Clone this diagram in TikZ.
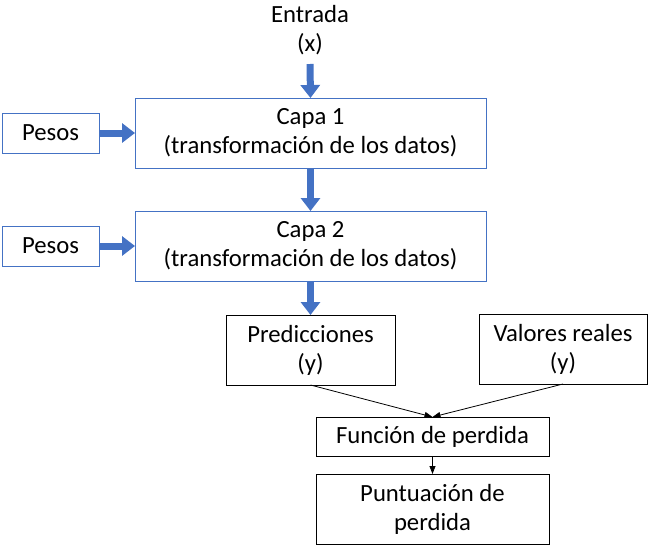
\documentclass[tikz,border=0pt]{standalone}
\usepackage{fontspec}
\setmainfont{Carlito}
\usetikzlibrary{arrows.meta}
\definecolor{obl}{HTML}{4472C4}
\tikzset{
  base/.style={rectangle, inner sep=0pt, outer sep=0pt, align=center, font=\fontsize{24.7}{29}\selectfont, text=black},
  bluebox/.style={base, draw=obl, line width=1pt},
  blackbox/.style={base, draw=black, line width=1pt},
  bigarrow/.style={draw=obl, line width=7pt, -{Triangle[width=19pt,length=13pt]}},
  thinarrow/.style={draw=black, line width=0.8pt, -{Triangle[width=6pt,length=8pt]}},
}
\begin{document}
\begin{tikzpicture}[x=1pt,y=-1pt]
\useasboundingbox (0,0) rectangle (651,549);
\node[base] (entrada) at (310,30) {Entrada\\(x)};
\node[bluebox, minimum width=351pt, minimum height=70pt] (capa1) at (310.5,133) {Capa 1\\(transformación de los datos)};
\node[bluebox, minimum width=351pt, minimum height=70pt] (capa2) at (310.5,246) {Capa 2\\(transformación de los datos)};
\node[bluebox, minimum width=97pt, minimum height=40pt] (p1) at (50.5,133) {Pesos};
\node[bluebox, minimum width=97pt, minimum height=40pt] (p2) at (50.5,246) {Pesos};
\node[blackbox, minimum width=169pt, minimum height=70pt] (pred) at (310.5,350) {Predicciones\\(y)};
\node[blackbox, minimum width=168pt, minimum height=70pt] (val) at (563,349) {Valores reales\\(y)};
\node[blackbox, minimum width=233pt, minimum height=39pt] (func) at (432.5,436.5) {Función de perdida};
\node[blackbox, minimum width=233pt, minimum height=70pt] (punt) at (432.5,509) {Puntuación de\\perdida};
\draw[bigarrow] (entrada.south |- 0,64) -- (capa1.north);
\draw[bigarrow] (capa1.south) -- (capa2.north);
\draw[bigarrow] (capa2.south) -- (pred.north);
\draw[bigarrow] (p1.east) -- (capa1.west);
\draw[bigarrow] (p2.east) -- (capa2.west);
\draw[thinarrow] (pred.south) -- (func.north);
\draw[thinarrow] (val.south) -- (func.north);
\draw[thinarrow] (func.south) -- (punt.north);
\end{tikzpicture}
\end{document}
